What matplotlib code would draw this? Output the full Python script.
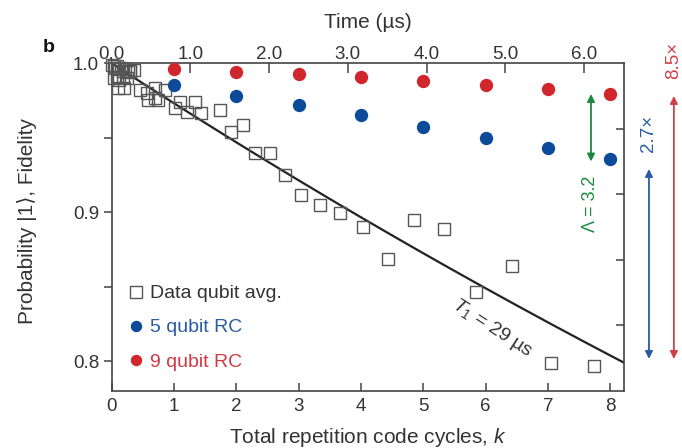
import numpy as np
import matplotlib
matplotlib.use("Agg")
import matplotlib.pyplot as plt
from matplotlib.lines import Line2D

plt.rcParams['font.family'] = ['Liberation Sans', 'DejaVu Sans']
plt.rcParams['mathtext.fontset'] = 'custom'
plt.rcParams['mathtext.it'] = 'Liberation Sans:italic'
plt.rcParams['mathtext.rm'] = 'Liberation Sans'

# ---------------- data ----------------
cycle_us = 0.7917           # time per repetition-code cycle (µs)
T1_us = 29.0

data_k = [0.0, 0.03, 0.06, 0.09, 0.12, 0.15, 0.18, 0.22, 0.26, 0.30, 0.35,
          0.04, 0.08, 0.12, 0.18, 0.24, 0.29, 0.10, 0.20,
          0.45, 0.56, 0.58, 0.69, 0.74, 0.69, 0.85,
          1.01, 1.09, 1.20, 1.33, 1.44, 1.73, 1.92, 2.10, 2.30, 2.54, 2.78,
          3.03, 3.34, 3.67, 4.03, 4.43, 4.85, 5.33, 5.84, 6.42, 7.05, 7.74]
data_p = [0.999, 0.998, 0.997, 0.998, 0.996, 0.997, 0.995, 0.996, 0.994, 0.995, 0.9954,
          0.990, 0.991, 0.989, 0.991, 0.990, 0.9948, 0.9834, 0.9834,
          0.9822, 0.980, 0.9755, 0.9766, 0.9753, 0.9832, 0.9822,
          0.9697, 0.9742, 0.9674, 0.9742, 0.9664, 0.9686, 0.954, 0.9585, 0.940, 0.940, 0.925,
          0.9115, 0.9048, 0.8997, 0.890, 0.8684, 0.8948, 0.8887, 0.8466, 0.8639, 0.799, 0.797]

rc_k = [1, 2, 3, 4, 5, 6, 7, 8]
rc5 = [0.9854, 0.9780, 0.9719, 0.9652, 0.9574, 0.9496, 0.9429, 0.9355]
rc9 = [0.9959, 0.9943, 0.9928, 0.9909, 0.9883, 0.9854, 0.9825, 0.9793]

top_ticks = [0.0, 1.0, 2.0, 3.0, 4.0, 5.0, 6.0]
top_labels = ['0.0', '1.0', '2.0', '3.0', '4.0', '5.0', '6.0']
right_ticks = [0.9558, 0.912, 0.868, 0.824]

lambda_label = 'Λ = 3.2'
blue_factor = '2.7×'
red_factor = '8.5×'

# ---------------- style ----------------
RED = '#d0272d'
BLUE = '#0c4a9a'
GREEN = '#1b8a3e'
TXT = '#333333'
AX = '#444444'
LBLUE = '#2a5ca6'
LRED = '#cf3a42'

fig = plt.figure(figsize=(6.82, 4.48), dpi=100)
ax = fig.add_axes([0.1638, 0.1272, 0.915 - 0.1638, 0.859 - 0.1272])

xmax = 8.22
ax.set_xlim(0, xmax)
ax.set_ylim(0.780, 1.0)

# T1 decay line
kk = np.linspace(0, xmax, 200)
ax.plot(kk, np.exp(-kk * cycle_us / T1_us), color='#222222', lw=1.6, zorder=2)

ax.plot(data_k, data_p, ls='none', marker='s', ms=8.4, mfc='none',
        mec='#555555', mew=1.0, zorder=3, clip_on=False)
ax.plot(rc_k, rc5, ls='none', marker='o', ms=9.6, color=BLUE, mec='none', zorder=4)
ax.plot(rc_k, rc9, ls='none', marker='o', ms=9.6, color=RED, mec='none', zorder=4, clip_on=False)

for s in ax.spines.values():
    s.set_color(AX)
    s.set_linewidth(1.2)

ax.set_xticks(range(0, 9))
ax.tick_params(axis='x', direction='in', length=6, width=1.1, color=AX,
               labelsize=13.5, labelcolor=TXT, pad=5)
ax.set_yticks([0.8, 0.85, 0.9, 0.95, 1.0])
ax.set_yticklabels(['0.8', '', '0.9', '', '1.0'])
ax.tick_params(axis='y', direction='out', length=6, width=1.1, color=AX,
               labelsize=13.5, labelcolor=TXT, pad=3)

ax.set_xlabel('Total repetition code cycles, $\\mathit{k}$', fontsize=15, color=TXT, labelpad=8)
ax.set_ylabel('Probability |1⟩, Fidelity', fontsize=15, color=TXT)
ax.yaxis.set_label_coords(-0.145, 0.52)

# right-side ticks
axr = ax.twinx()
axr.set_ylim(ax.get_ylim())
axr.set_yticks(right_ticks)
axr.set_yticklabels([])
axr.tick_params(axis='y', direction='in', length=6, width=1.1, color=AX)
for s in axr.spines.values():
    s.set_visible(False)

# top axis: time in µs
sec = ax.secondary_xaxis('top', functions=(lambda k: k * cycle_us, lambda t: t / cycle_us))
sec.set_xticks(top_ticks)
sec.set_xticklabels(top_labels)
sec.tick_params(direction='in', length=7, width=1.1, color=AX, labelsize=13.5,
                labelcolor=TXT, pad=0)
sec.spines['top'].set_visible(False)
sec.set_xlabel('Time (µs)', fontsize=15, color=TXT, labelpad=13)

# legend
handles = [
    Line2D([], [], ls='none', marker='s', ms=8.2, mfc='none', mec='#555555', mew=1.0),
    Line2D([], [], ls='none', marker='o', ms=8.2, color=BLUE, mec='none'),
    Line2D([], [], ls='none', marker='o', ms=8.2, color=RED, mec='none'),
]
ax.legend(handles, ['Data qubit avg.', '5 qubit RC', '9 qubit RC'],
          loc='upper left', bbox_to_anchor=(0.016, 0.348), frameon=False,
          fontsize=14, labelcolor=[TXT, LBLUE, LRED],
          handlelength=0.9, handletextpad=0.25, labelspacing=0.85, borderaxespad=0)

# T1 label
ax.text(6.1, 0.8225, '$\\mathit{T}_1$ = 29 µs', rotation=-33, fontsize=14, color=TXT,
        ha='center', va='center', rotation_mode='anchor')

# arrows
arr_kw = dict(arrowstyle='<|-|>', mutation_scale=11, lw=1.3, shrinkA=0, shrinkB=0)
ax.annotate('', xy=(7.69, rc9[-1]), xytext=(7.69, rc5[-1] - 0.0015),
            arrowprops=dict(color=GREEN, **arr_kw), annotation_clip=False)
ax.text(7.69, 0.9055, lambda_label, rotation=90, color=GREEN, fontsize=13,
        ha='center', va='center')

ax.annotate('', xy=(8.62, 0.929), xytext=(8.62, 0.8015),
            arrowprops=dict(color=LBLUE, **arr_kw), annotation_clip=False)
ax.text(8.62, 0.953, blue_factor, rotation=90, color=LBLUE, fontsize=13.5,
        ha='center', va='center', clip_on=False)

ax.annotate('', xy=(9.02, 0.978), xytext=(9.02, 0.8015),
            arrowprops=dict(color='#d04048', **arr_kw), annotation_clip=False)
ax.text(9.02, 1.002, red_factor, rotation=90, color='#d04048', fontsize=13.5,
        ha='center', va='center', clip_on=False)

fig.text(0.072, 0.895, 'b', fontsize=14, fontweight='bold', color='#111111',
         ha='center', va='center')

fig.savefig('out.png', dpi=100)
